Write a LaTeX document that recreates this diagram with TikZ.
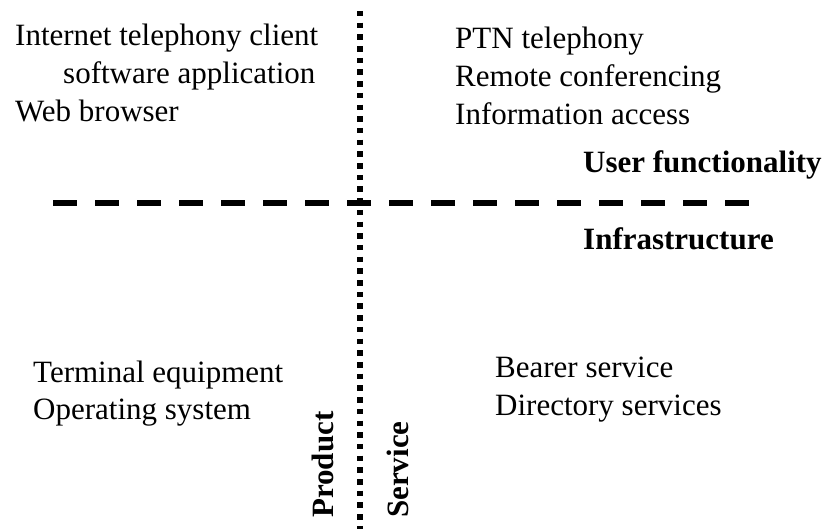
\documentclass[tikz,border=0pt]{standalone}
\usepackage{fontspec}
\setmainfont{Liberation Serif}

\tikzset{
  item/.style={anchor=base west, inner sep=0pt, font=\fontsize{31}{38}\selectfont},
  title/.style={item, font=\fontsize{31}{38}\selectfont\bfseries},
  sidetitle/.style={title, rotate=90},
  divider/.style={line width=6pt, dash pattern=on 24pt off 18pt},
  splitter/.style={line width=6pt, dash pattern=on 5.5pt off 6.2pt}
}

\begin{document}
\begin{tikzpicture}[x=1pt,y=-1pt]
\useasboundingbox (0,0) rectangle (822,529);

% Assi del diagramma
\coordinate (vtop) at (360,11);
\coordinate (vbot) at (360,529);
\coordinate (hleft) at (53,203);
\coordinate (hright) at (749,203);
\draw[splitter] (vtop) -- (vbot);
\draw[divider] (hleft) -- (hright);

% Quadrante in alto a sinistra (prodotto, utente)
\node[item] (inet) at (15,46) {Internet telephony client};
\node[item] (soft) at (63,84) {software application};
\node[item] (web) at (15,122) {Web browser};

% Quadrante in alto a destra (servizio, utente)
\node[item] (ptn) at (455,49) {PTN telephony};
\node[item] (remote) at (455,87) {Remote conferencing};
\node[item] (info) at (455,125) {Information access};
\node[title] (user) at (583,173) {User functionality};

% Infrastruttura
\node[title] (infra) at (583,250) {Infrastructure};
\node[item] (term) at (33,382) {Terminal equipment};
\node[item] (os) at (33,419) {Operating system};
\node[item] (bearer) at (495,377) {Bearer service};
\node[item] (dir) at (495,415) {Directory services};

% Etichette verticali
\node[sidetitle] (product) at (333,518) {Product};
\node[sidetitle] (service) at (408,518) {Service};

\end{tikzpicture}
\end{document}
